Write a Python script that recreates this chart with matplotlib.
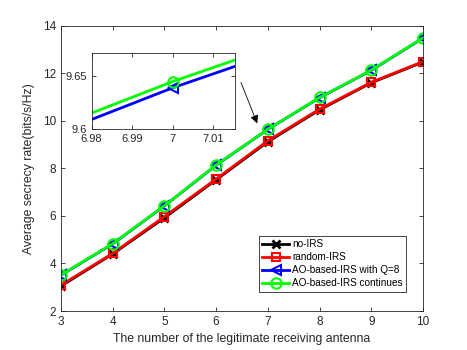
import matplotlib
matplotlib.use("Agg")
import matplotlib.pyplot as plt

plt.rcParams['font.family'] = ['Liberation Sans', 'DejaVu Sans']

# number of legitimate receiving antennas
antennas = [3, 4, 5, 6, 7, 8, 9, 10]
# average secrecy rate (bits/s/Hz)
no_irs = [3.05, 4.40, 5.92, 7.52, 9.12, 10.46, 11.60, 12.47]
random_irs = [3.09, 4.42, 5.97, 7.55, 9.16, 10.49, 11.62, 12.49]
ao_q8 = [3.51, 4.82, 6.42, 8.13, 9.639, 10.97, 12.12, 13.48]
ao_cont = [3.52, 4.83, 6.43, 8.14, 9.645, 10.98, 12.13, 13.49]

labels = ['no-IRS', 'random-IRS', 'AO-based-IRS with Q=8', 'AO-based-IRS continues']

xticks = [3, 4, 5, 6, 7, 8, 9, 10]
yticks = [2, 4, 6, 8, 10, 12, 14]
inset_xticks = [6.98, 6.99, 7, 7.01]
inset_xlabels = ['6.98', '6.99', '7', '7.01']
inset_yticks = [9.6, 9.65]
inset_ylabels = ['9.6', '9.65']

grey = '#262626'


def draw_lines(ax, lw=2):
    ax.plot(antennas, no_irs, color='black', marker='x', markersize=6, mew=2, lw=lw, label=labels[0])
    ax.plot(antennas, random_irs, color='red', marker='s', markersize=6, mfc='none', mew=1.5, lw=lw, label=labels[1])
    ax.plot(antennas, ao_q8, color='blue', marker='<', markersize=7.5, mfc='none', mew=1.5, lw=lw, label=labels[2])
    ax.plot(antennas, ao_cont, color='#00ff00', marker='o', markersize=7.5, mfc='none', mew=1.5, lw=lw, label=labels[3])


def style_axes(ax, size):
    for s in ax.spines.values():
        s.set_color(grey)
        s.set_linewidth(0.6)
    ax.tick_params(direction='in', top=True, right=True, colors=grey, labelsize=size, length=3, width=0.6)


fig = plt.figure(figsize=(4.67, 3.5), dpi=100)
ax = fig.add_axes([0.1306, 0.1114, 0.7752, 0.8152])
draw_lines(ax)
ax.set_xlim(3, 10)
ax.set_ylim(2, 14)
ax.set_xticks(xticks)
ax.set_yticks(yticks)
style_axes(ax, 8.5)
ax.set_xlabel('The number of the legitimate receiving antenna', fontsize=8.8, color=grey, labelpad=4)
ax.set_ylabel('Average secrecy rate(bits/s/Hz)', fontsize=8.8, color=grey, labelpad=6)

leg = ax.legend(loc='lower right', bbox_to_anchor=(0.953, 0.067), fontsize=7.2, handlelength=2.7,
                fancybox=False, framealpha=1, edgecolor=grey, borderpad=0.35, labelspacing=0.3,
                handletextpad=0.25, borderaxespad=0)
leg.get_frame().set_linewidth(0.6)

ax.annotate('', xy=(6.815, 9.78), xytext=(6.46, 11.72),
            arrowprops=dict(arrowstyle='-|>', color='black', lw=0.6, mutation_scale=12))

ins = fig.add_axes([0.1963, 0.6323, 0.3075, 0.2154])
draw_lines(ins, lw=2)
ins.set_xlim(6.98, 7.0155)
ins.set_ylim(9.6, 9.672)
ins.set_xticks(inset_xticks)
ins.set_xticklabels(inset_xlabels)
ins.set_yticks(inset_yticks)
ins.set_yticklabels(inset_ylabels)
style_axes(ins, 8)

fig.savefig('out.png', dpi=100)
